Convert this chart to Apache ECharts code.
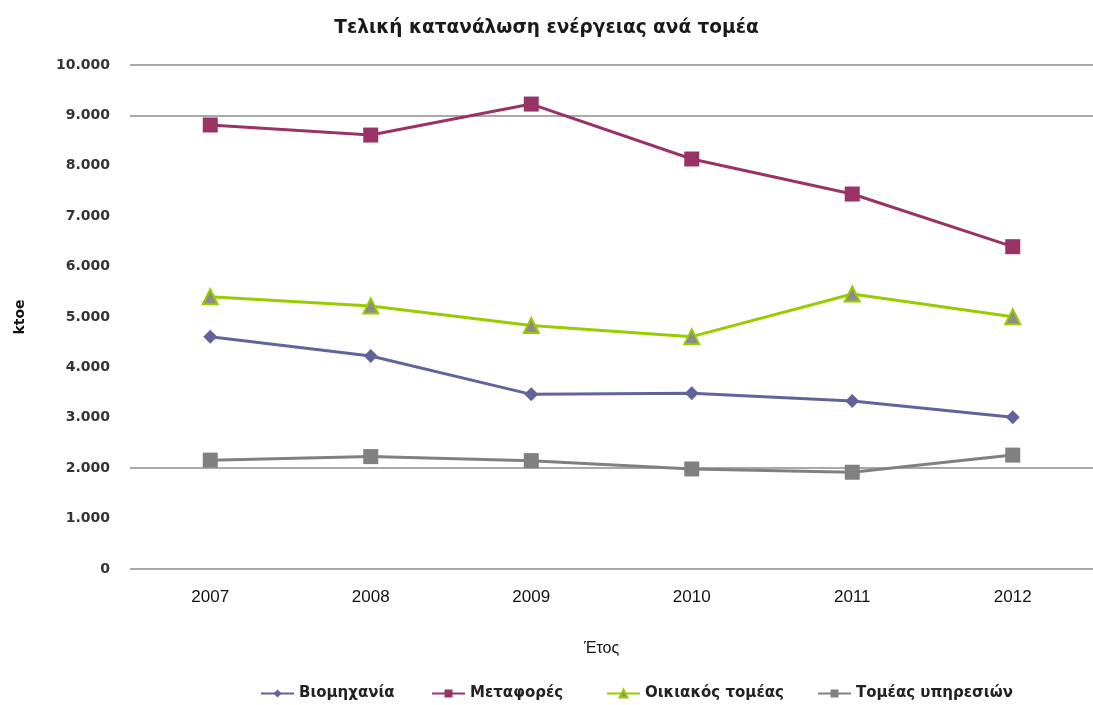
<!DOCTYPE html>
<html>
<head>
<meta charset="utf-8">
<script src="https://cdn.jsdelivr.net/npm/echarts@6/dist/echarts.min.js"></script>
<style>
  html, body { margin: 0; padding: 0; background: #fff; }
  #chart { width: 1093px; height: 705px; }
</style>
</head>
<body>
<div id="chart"></div>
<script>
// Final energy consumption by sector (ktoe), 2007–2012
const years = ['2007', '2008', '2009', '2010', '2011', '2012'];
const industry = [4610, 4225, 3465, 3485, 3335, 3010];
const transport = [8810, 8610, 9225, 8135, 7440, 6395];
const residential = [5400, 5220, 4830, 4610, 5455, 5005];
const services = [2160, 2230, 2150, 1985, 1920, 2260];

const seriesNames = ['Βιομηχανία', 'Μεταφορές', 'Οικιακός τομέας', 'Τομέας υπηρεσιών'];
const seriesColors = ['#63639c', '#993366', '#99cc00', '#808080'];
const legendLefts = [255, 426, 601, 812];

// only a few horizontal guide lines are drawn (0, 2.000, 9.000, 10.000)
const clear = 'rgba(0,0,0,0)';
const gridColors = ['#8c8c8c', clear, '#8c8c8c', clear, clear, clear, clear, clear, clear, '#8c8c8c', '#8c8c8c'];

const fmt = v => v === 0 ? '0' : (v / 1000).toFixed(3);

const legendText = { fontFamily: 'DejaVu Sans', fontWeight: 'bold', fontSize: 15, color: '#222' };

const chart = echarts.init(document.getElementById('chart'));
chart.setOption({
  animation: false,
  backgroundColor: '#fff',
  title: {
    text: 'Τελική κατανάλωση ενέργειας ανά τομέα',
    left: 'center',
    top: 14,
    textStyle: { fontFamily: 'DejaVu Sans', fontWeight: 'bold', fontSize: 18.5, color: '#1a1a1a' }
  },
  grid: { left: 130, right: -10, top: 65, bottom: 136 },
  // one legend block per series so each entry sits at its own spot
  legend: seriesNames.map((n, i) => ({
    data: [n],
    left: legendLefts[i],
    top: 681,
    itemWidth: 33,
    itemHeight: 10,
    itemGap: 2,
    textStyle: legendText
  })),
  xAxis: {
    type: 'category',
    data: years,
    boundaryGap: true,
    name: 'Έτος',
    nameLocation: 'middle',
    nameGap: 72,
    nameTextStyle: { fontFamily: 'Liberation Sans', fontSize: 16, color: '#111', padding: [0, 0, 0, -20] },
    axisLine: { show: false },
    axisTick: { show: false },
    axisLabel: { margin: 20, fontFamily: 'Liberation Sans', fontSize: 17, color: '#111' }
  },
  yAxis: {
    type: 'value',
    min: 0,
    max: 10000,
    interval: 1000,
    name: 'ktoe',
    nameLocation: 'middle',
    nameGap: 103,
    nameRotate: 90,
    nameTextStyle: { fontFamily: 'DejaVu Sans', fontWeight: 'bold', fontSize: 14, color: '#111' },
    axisLine: { show: false },
    axisTick: { show: false },
    axisLabel: { margin: 20, formatter: fmt, fontFamily: 'DejaVu Sans', fontWeight: 'bold', fontSize: 14, color: '#333' },
    splitLine: { show: true, lineStyle: { color: gridColors, width: 1.5 } }
  },
  series: [
    {
      name: seriesNames[0], type: 'line', data: industry,
      symbol: 'diamond', symbolSize: 14,
      itemStyle: { color: seriesColors[0] },
      lineStyle: { color: seriesColors[0], width: 3 }
    },
    {
      name: seriesNames[1], type: 'line', data: transport,
      symbol: 'rect', symbolSize: 15,
      itemStyle: { color: seriesColors[1] },
      lineStyle: { color: seriesColors[1], width: 3 }
    },
    {
      name: seriesNames[2], type: 'line', data: residential,
      symbol: 'triangle', symbolSize: 15,
      itemStyle: { color: '#8c8c8c', borderColor: seriesColors[2], borderWidth: 2 },
      lineStyle: { color: seriesColors[2], width: 3 }
    },
    {
      name: seriesNames[3], type: 'line', data: services,
      symbol: 'rect', symbolSize: 15,
      itemStyle: { color: seriesColors[3] },
      lineStyle: { color: seriesColors[3], width: 3 }
    }
  ]
});
</script>
</body>
</html>
